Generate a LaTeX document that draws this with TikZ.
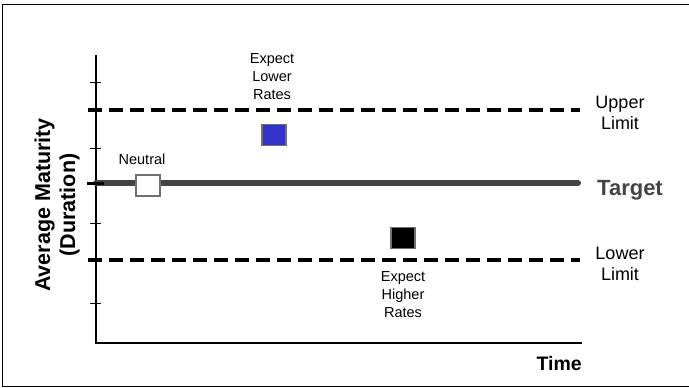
\documentclass[tikz,border=0pt]{standalone}
\usepackage{fontspec}
\setmainfont{Liberation Sans}
\usepackage{xcolor}
\usetikzlibrary{positioning}

\definecolor{targetgray}{HTML}{444444}
\definecolor{lowblue}{HTML}{3333CC}
\definecolor{markedge}{HTML}{707070}

\begin{document}
\begin{tikzpicture}[x=1pt,y=-1pt,
 every node/.style={align=center,inner sep=0pt},
 limit/.style={line width=4.5pt,dash pattern=on 14pt off 7pt},
 marker/.style={draw=markedge,line width=1.5pt,minimum width=24pt,minimum height=21pt},
 small/.style={font=\fontsize{14.5}{18}\selectfont},
 side/.style={font=\fontsize{18}{21}\selectfont}]
    \useasboundingbox (0,0) rectangle (689,388);
    % frame, open to the right
    \draw[line width=0.8pt] (689,4.5) -- (2.5,4.5) -- (2.5,386.5) -- (689,386.5);
    % axes and ticks
    \draw[line width=1.5pt] (96,55) -- (96,343) -- (582,343);
    \foreach \y in {82,148,223,303}
      \draw[line width=1pt] (90,\y) -- (101,\y);
    % limits and target
    \draw[limit] (88,110) -- (580,110);
    \draw[limit] (88,260) -- (580,260);
    \draw[targetgray,line width=6pt,line cap=round] (96,183) -- (578,183);
    \draw[line width=3pt] (87,183) -- (104,183);
    % markers
    \node[marker,fill=white] (neutral) at (148,185.5) {};
    \node[marker,fill=lowblue] (lower) at (274,135) {};
    \node[marker,fill=black] (higher) at (403,238) {};
    \node[small,above=9pt of neutral,xshift=-6pt] (neutrallbl) {Neutral};
    \node[small,above=24pt of lower,xshift=-2pt] (lowerlbl) {Expect\\Lower\\Rates};
    \node[small,below=22pt of higher] (higherlbl) {Expect\\Higher\\Rates};
    % labels
    \node[side] (upperlim) at (620,113) {Upper\\Limit};
    \node[side] (lowerlim) at (620,264) {Lower\\Limit};
    \node[anchor=base west,text=targetgray,font=\fontsize{22}{26}\selectfont\bfseries] (target) at (597,195) {Target};
    \node[anchor=base east,font=\fontsize{19.5}{23}\selectfont\bfseries] (time) at (582,370) {Time};
    \node[rotate=90,font=\fontsize{21.5}{25}\selectfont\bfseries] (ylabel) at (57,205) {Average Maturity\\(Duration)};
\end{tikzpicture}
\end{document}
